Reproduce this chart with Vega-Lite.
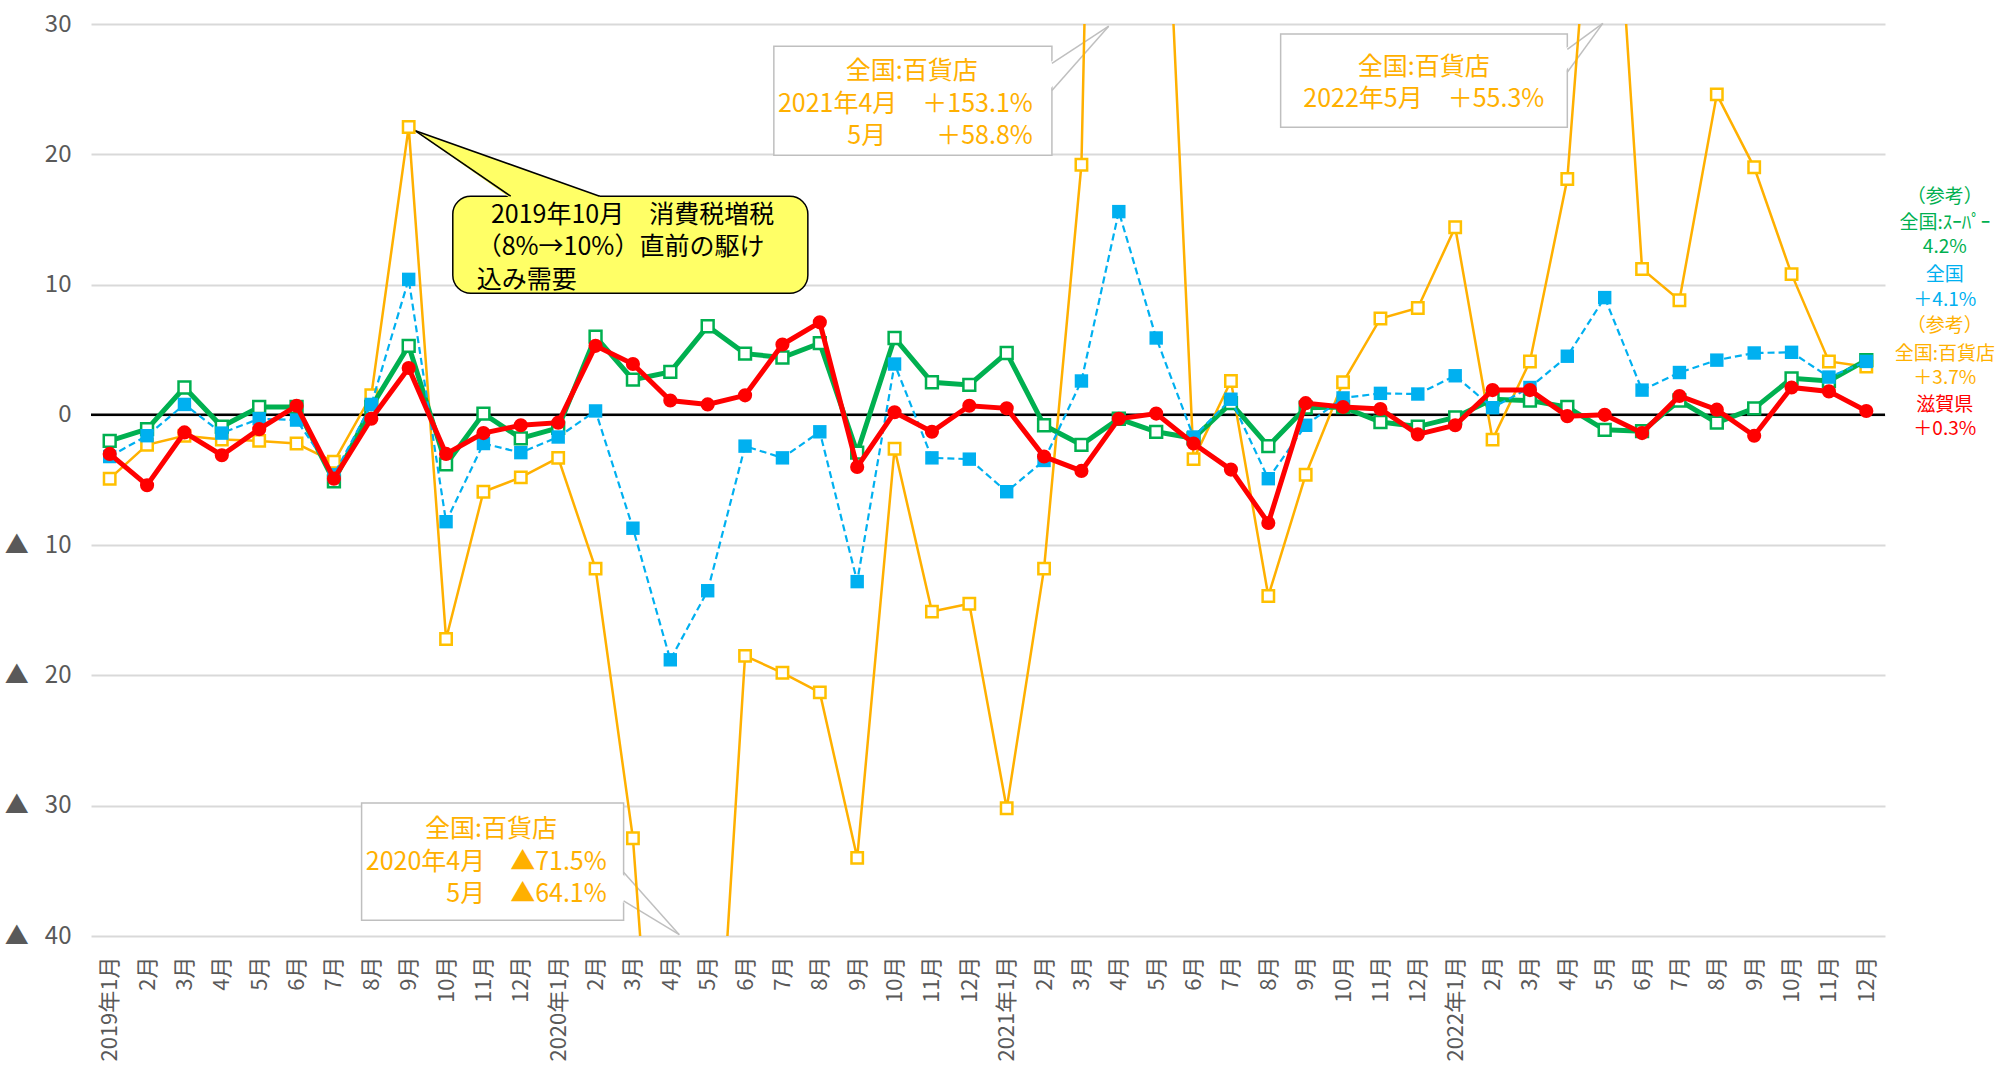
{
  "$schema": "https://vega.github.io/schema/vega-lite/v6.json",
  "width": 1794,
  "height": 912,
  "autosize": {"type": "none"},
  "padding": {"left": 91, "top": 24, "right": 118, "bottom": 135},
  "background": "white",
  "config": {"view": {"stroke": null}, "font": "Noto Sans CJK JP"},
  "datasets": {
    "dept": [
      {"m":0,"v":-4.9},{"m":1,"v":-2.3},{"m":2,"v":-1.6},{"m":3,"v":-1.9},{"m":4,"v":-2.0},{"m":5,"v":-2.2},
      {"m":6,"v":-3.6},{"m":7,"v":1.5},{"m":8,"v":22.1},{"m":9,"v":-17.2},{"m":10,"v":-5.9},{"m":11,"v":-4.8},
      {"m":12,"v":-3.3},{"m":13,"v":-11.8},{"m":14,"v":-32.5},{"m":15,"v":-71.5},{"m":16,"v":-64.1},{"m":17,"v":-18.5},
      {"m":18,"v":-19.8},{"m":19,"v":-21.3},{"m":20,"v":-34.0},{"m":21,"v":-2.6},{"m":22,"v":-15.1},{"m":23,"v":-14.5},
      {"m":24,"v":-30.2},{"m":25,"v":-11.8},{"m":26,"v":19.2},{"m":27,"v":153.1},{"m":28,"v":58.8},{"m":29,"v":-3.4},
      {"m":30,"v":2.6},{"m":31,"v":-13.9},{"m":32,"v":-4.6},{"m":33,"v":2.5},{"m":34,"v":7.4},{"m":35,"v":8.2},
      {"m":36,"v":14.4},{"m":37,"v":-1.9},{"m":38,"v":4.1},{"m":39,"v":18.1},{"m":40,"v":55.3},{"m":41,"v":11.2},
      {"m":42,"v":8.8},{"m":43,"v":24.6},{"m":44,"v":19.0},{"m":45,"v":10.8},{"m":46,"v":4.1},{"m":47,"v":3.7}
    ],
    "zen": [
      {"m":0,"v":-3.2},{"m":1,"v":-1.6},{"m":2,"v":0.8},{"m":3,"v":-1.4},{"m":4,"v":-0.3},{"m":5,"v":-0.4},
      {"m":6,"v":-4.6},{"m":7,"v":0.8},{"m":8,"v":10.4},{"m":9,"v":-8.2},{"m":10,"v":-2.2},{"m":11,"v":-2.9},
      {"m":12,"v":-1.7},{"m":13,"v":0.3},{"m":14,"v":-8.7},{"m":15,"v":-18.8},{"m":16,"v":-13.5},{"m":17,"v":-2.4},
      {"m":18,"v":-3.3},{"m":19,"v":-1.3},{"m":20,"v":-12.8},{"m":21,"v":3.9},{"m":22,"v":-3.3},{"m":23,"v":-3.4},
      {"m":24,"v":-5.9},{"m":25,"v":-3.5},{"m":26,"v":2.6},{"m":27,"v":15.6},{"m":28,"v":5.9},{"m":29,"v":-1.7},
      {"m":30,"v":1.2},{"m":31,"v":-4.9},{"m":32,"v":-0.8},{"m":33,"v":1.3},{"m":34,"v":1.65},{"m":35,"v":1.6},
      {"m":36,"v":3.0},{"m":37,"v":0.55},{"m":38,"v":2.1},{"m":39,"v":4.5},{"m":40,"v":9.0},{"m":41,"v":1.9},
      {"m":42,"v":3.25},{"m":43,"v":4.2},{"m":44,"v":4.75},{"m":45,"v":4.8},{"m":46,"v":2.9},{"m":47,"v":4.1}
    ],
    "super": [
      {"m":0,"v":-2.0},{"m":1,"v":-1.1},{"m":2,"v":2.1},{"m":3,"v":-0.9},{"m":4,"v":0.6},{"m":5,"v":0.6},
      {"m":6,"v":-5.1},{"m":7,"v":0.6},{"m":8,"v":5.3},{"m":9,"v":-3.8},{"m":10,"v":0.1},{"m":11,"v":-1.8},
      {"m":12,"v":-1.0},{"m":13,"v":6.0},{"m":14,"v":2.7},{"m":15,"v":3.3},{"m":16,"v":6.8},{"m":17,"v":4.7},
      {"m":18,"v":4.4},{"m":19,"v":5.5},{"m":20,"v":-2.9},{"m":21,"v":5.9},{"m":22,"v":2.5},{"m":23,"v":2.3},
      {"m":24,"v":4.75},{"m":25,"v":-0.8},{"m":26,"v":-2.3},{"m":27,"v":-0.3},{"m":28,"v":-1.3},{"m":29,"v":-1.8},
      {"m":30,"v":0.9},{"m":31,"v":-2.4},{"m":32,"v":0.55},{"m":33,"v":0.6},{"m":34,"v":-0.55},{"m":35,"v":-0.9},
      {"m":36,"v":-0.2},{"m":37,"v":1.2},{"m":38,"v":1.1},{"m":39,"v":0.6},{"m":40,"v":-1.15},{"m":41,"v":-1.25},
      {"m":42,"v":1.1},{"m":43,"v":-0.6},{"m":44,"v":0.5},{"m":45,"v":2.8},{"m":46,"v":2.6},{"m":47,"v":4.2}
    ],
    "shiga": [
      {"m":0,"v":-3.0},{"m":1,"v":-5.4},{"m":2,"v":-1.35},{"m":3,"v":-3.1},{"m":4,"v":-1.1},{"m":5,"v":0.7},
      {"m":6,"v":-4.9},{"m":7,"v":-0.3},{"m":8,"v":3.6},{"m":9,"v":-3.0},{"m":10,"v":-1.4},{"m":11,"v":-0.8},
      {"m":12,"v":-0.6},{"m":13,"v":5.3},{"m":14,"v":3.9},{"m":15,"v":1.1},{"m":16,"v":0.8},{"m":17,"v":1.5},
      {"m":18,"v":5.4},{"m":19,"v":7.1},{"m":20,"v":-4.0},{"m":21,"v":0.2},{"m":22,"v":-1.3},{"m":23,"v":0.7},
      {"m":24,"v":0.5},{"m":25,"v":-3.2},{"m":26,"v":-4.3},{"m":27,"v":-0.3},{"m":28,"v":0.1},{"m":29,"v":-2.2},
      {"m":30,"v":-4.2},{"m":31,"v":-8.3},{"m":32,"v":0.9},{"m":33,"v":0.6},{"m":34,"v":0.45},{"m":35,"v":-1.5},
      {"m":36,"v":-0.8},{"m":37,"v":1.9},{"m":38,"v":1.9},{"m":39,"v":-0.1},{"m":40,"v":0.0},{"m":41,"v":-1.4},
      {"m":42,"v":1.45},{"m":43,"v":0.4},{"m":44,"v":-1.6},{"m":45,"v":2.1},{"m":46,"v":1.8},{"m":47,"v":0.3}
    ]
  },
  "encoding": {
    "x": {
      "field": "m", "type": "quantitative",
      "scale": {"domain": [-0.5, 47.5], "nice": false, "zero": false},
      "axis": {
        "values": [0,1,2,3,4,5,6,7,8,9,10,11,12,13,14,15,16,17,18,19,20,21,22,23,24,25,26,27,28,29,30,31,32,33,34,35,36,37,38,39,40,41,42,43,44,45,46,47],
        "labelExpr": "datum.value % 12 == 0 ? (2019 + floor(datum.value / 12)) + '年1月' : (datum.value % 12 + 1) + '月'",
        "labelAngle": -90, "labelFontSize": 22, "labelColor": "#595959",
        "ticks": false, "domain": false, "grid": false, "labelPadding": 20,
        "title": null, "labelOverlap": false, "labelBound": false, "labelFlush": false
      }
    },
    "y": {
      "field": "v", "type": "quantitative",
      "scale": {"domain": [-40, 30], "nice": false, "zero": false},
      "axis": {
        "values": [-40,-30,-20,-10,0,10,20,30],
        "labelExpr": "datum.value < 0 ? '▲\u00a0\u00a0\u00a0' + (-datum.value) : '' + datum.value",
        "labelFontSize": 24, "labelColor": "#595959",
        "ticks": false, "domain": false, "gridColor": "#d9d9d9", "gridWidth": 2,
        "labelPadding": 20, "title": null
      }
    }
  },
  "layer": [
    {
      "data": {"values": [{"m": 17.77, "m2": 25.21, "v": 28.29, "v2": 19.92}, {"m": 31.33, "m2": 39.0, "v": 29.23, "v2": 22.07}, {"m": 6.74, "m2": 13.75, "v": -29.8, "v2": -38.8}]},
      "mark": {"type": "rect", "fill": "white", "stroke": "#bfbfbf", "strokeWidth": 1.5, "clip": false},
      "encoding": {"x2": {"field": "m2"}, "y2": {"field": "v2"}}
    },
    {
      "data": {"values": [{"m": 25.12, "v": 26.98, "v2": 24.9}, {"m": 26.73, "v": 29.83, "v2": 29.83}]},
      "mark": {"type": "area", "orient": "vertical", "fill": "white", "clip": false},
      "encoding": {"y2": {"field": "v2"}}
    },
    {
      "data": {"values": [{"m": 38.92, "v": 28.06, "v2": 26.3}, {"m": 39.95, "v": 30.05, "v2": 30.05}]},
      "mark": {"type": "area", "orient": "vertical", "fill": "white", "clip": false},
      "encoding": {"y2": {"field": "v2"}}
    },
    {
      "data": {"values": [{"m": 13.67, "v": -35.1, "v2": -37.3}, {"m": 15.24, "v": -39.9, "v2": -39.9}]},
      "mark": {"type": "area", "orient": "vertical", "fill": "white", "clip": false},
      "encoding": {"y2": {"field": "v2"}}
    },
    {
      "data": {"values": [
        {"g": "a1", "m": 25.21, "v": 26.98}, {"g": "a1", "m": 26.73, "v": 29.83},
        {"g": "a2", "m": 25.21, "v": 24.9}, {"g": "a2", "m": 26.73, "v": 29.83},
        {"g": "b1", "m": 39.0, "v": 28.06}, {"g": "b1", "m": 39.95, "v": 30.05},
        {"g": "b2", "m": 39.0, "v": 26.3}, {"g": "b2", "m": 39.95, "v": 30.05},
        {"g": "c1", "m": 13.75, "v": -35.1}, {"g": "c1", "m": 15.24, "v": -39.9},
        {"g": "c2", "m": 13.75, "v": -37.3}, {"g": "c2", "m": 15.24, "v": -39.9}
      ]},
      "mark": {"type": "line", "color": "#bfbfbf", "strokeWidth": 1.5, "clip": false},
      "encoding": {"detail": {"field": "g"}}
    },
    {
      "data": {"values": [{"m": 9.18, "m2": 18.68, "v": 16.78, "v2": 9.33}]},
      "mark": {"type": "rect", "fill": "#FFFF66", "stroke": "black", "strokeWidth": 1.5, "cornerRadius": 18, "clip": false},
      "encoding": {"x2": {"field": "m2"}, "y2": {"field": "v2"}}
    },
    {
      "data": {"values": [{"m": 8.16, "v": 21.83, "v2": 21.83}, {"m": 10.73, "v": 19.21, "v2": 16.6}, {"m": 13.11, "v": 16.78, "v2": 16.6}]},
      "mark": {"type": "area", "orient": "vertical", "fill": "#FFFF66", "clip": false},
      "encoding": {"y2": {"field": "v2"}}
    },
    {
      "data": {"values": [
        {"g": "y1", "m": 8.16, "v": 21.83}, {"g": "y1", "m": 10.73, "v": 16.78},
        {"g": "y2", "m": 8.16, "v": 21.83}, {"g": "y2", "m": 13.11, "v": 16.78}
      ]},
      "mark": {"type": "line", "color": "black", "strokeWidth": 1.5, "clip": false},
      "encoding": {"detail": {"field": "g"}}
    },
    {
      "data": {"values": [
        {"m": 10.2, "v": 15.32, "t": "2019年10月　消費税増税", "s": "note"},
        {"m": 9.82, "v": 12.86, "t": "（8%→10%）直前の駆け", "s": "note"},
        {"m": 9.82, "v": 10.33, "t": "込み需要", "s": "note"}
      ]},
      "mark": {"type": "text", "align": "left", "baseline": "middle", "fontSize": 25},
      "encoding": {"text": {"field": "t"}, "color": {"field": "s", "type": "nominal", "scale": {"domain": ["dept", "zen", "super", "shiga", "note"], "range": ["#FFB000", "#00B0F0", "#00B050", "#FF0000", "#000000"]}, "legend": null}}
    },
    {
      "data": {"values": [
        {"m": 21.46, "v": 26.37, "t": "全国:百貨店", "s": "dept"},
        {"m": 35.16, "v": 26.68, "t": "全国:百貨店", "s": "dept"},
        {"m": 35.16, "v": 24.22, "t": "2022年5月　＋55.3%", "s": "dept"},
        {"m": 10.2, "v": -31.79, "t": "全国:百貨店", "s": "dept"}
      ]},
      "mark": {"type": "text", "align": "center", "baseline": "middle", "fontSize": 25},
      "encoding": {"text": {"field": "t"}, "color": {"field": "s", "type": "nominal", "legend": null}}
    },
    {
      "data": {"values": [
        {"m": 24.7, "v": 23.86, "t": "2021年4月　＋153.1%", "s": "dept"},
        {"m": 24.7, "v": 21.38, "t": "5月　　＋58.8%", "s": "dept"},
        {"m": 13.3, "v": -34.3, "t": "2020年4月　▲71.5%", "s": "dept"},
        {"m": 13.3, "v": -36.76, "t": "5月　▲64.1%", "s": "dept"}
      ]},
      "mark": {"type": "text", "align": "right", "baseline": "middle", "fontSize": 25},
      "encoding": {"text": {"field": "t"}, "color": {"field": "s", "type": "nominal", "legend": null}}
    },
    {
      "data": {"values": [{"m": -0.5, "m2": 47.5, "v": 0}]},
      "mark": {"type": "rule", "color": "black", "strokeWidth": 2.5},
      "encoding": {"x2": {"field": "m2"}}
    },
    {
      "data": {"name": "dept"},
      "mark": {"type": "line", "color": "#FFB000", "strokeWidth": 2.5, "clip": true},
      "encoding": {}
    },
    {
      "data": {"name": "dept"},
      "mark": {"type": "square", "fill": "white", "stroke": "#FFC000", "strokeWidth": 2.5, "size": 130, "opacity": 1, "clip": true},
      "encoding": {}
    },
    {
      "data": {"name": "super"},
      "mark": {"type": "line", "color": "#00B050", "strokeWidth": 5, "clip": true},
      "encoding": {}
    },
    {
      "data": {"name": "super"},
      "mark": {"type": "square", "fill": "white", "stroke": "#00B050", "strokeWidth": 2.5, "size": 140, "opacity": 1, "clip": true},
      "encoding": {}
    },
    {
      "data": {"name": "zen"},
      "mark": {"type": "line", "color": "#00B0F0", "strokeWidth": 2.2, "strokeDash": [7, 4], "clip": true},
      "encoding": {}
    },
    {
      "data": {"name": "zen"},
      "mark": {"type": "square", "fill": "#00B0F0", "size": 180, "opacity": 1, "clip": true},
      "encoding": {}
    },
    {
      "data": {"name": "shiga"},
      "mark": {"type": "line", "color": "#FF0000", "strokeWidth": 5, "clip": true},
      "encoding": {}
    },
    {
      "data": {"name": "shiga"},
      "mark": {"type": "circle", "fill": "#FF0000", "size": 200, "opacity": 1, "clip": true},
      "encoding": {}
    },
    {
      "data": {"values": [
        {"m": 49.1, "v": 16.7, "t": "（参考）", "s": "super"},
        {"m": 49.1, "v": 14.7, "t": "全国:ｽｰﾊﾟｰ", "s": "super"},
        {"m": 49.1, "v": 12.85, "t": "4.2%", "s": "super"},
        {"m": 49.1, "v": 10.7, "t": "全国", "s": "zen"},
        {"m": 49.1, "v": 8.8, "t": "＋4.1%", "s": "zen"},
        {"m": 49.1, "v": 6.8, "t": "（参考）", "s": "dept"},
        {"m": 49.1, "v": 4.7, "t": "全国:百貨店", "s": "dept"},
        {"m": 49.1, "v": 2.8, "t": "＋3.7%", "s": "dept"},
        {"m": 49.1, "v": 0.74, "t": "滋賀県", "s": "shiga"},
        {"m": 49.1, "v": -1.1, "t": "＋0.3%", "s": "shiga"}
      ]},
      "mark": {"type": "text", "align": "center", "baseline": "middle", "fontSize": 19, "clip": false},
      "encoding": {"text": {"field": "t"}, "color": {"field": "s", "type": "nominal", "legend": null}}
    }
  ]
}
